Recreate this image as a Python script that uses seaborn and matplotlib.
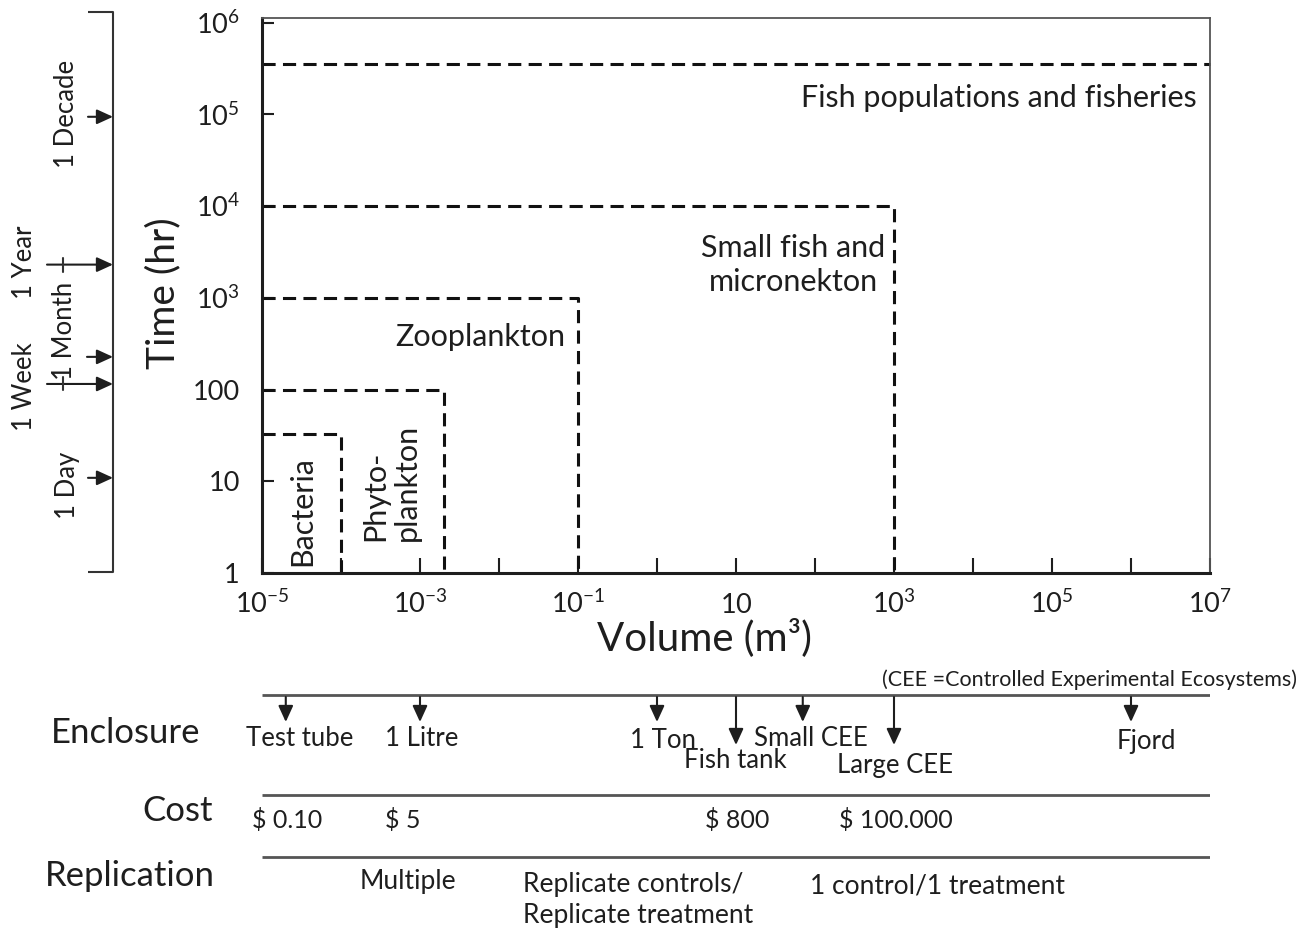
import matplotlib
matplotlib.use("Agg")
import matplotlib.pyplot as plt
from matplotlib.ticker import NullLocator
import pandas as pd
import seaborn as sns

# ---------------- data ----------------
groups = ["Bacteria", "Phytoplankton", "Zooplankton",
          "Small fish and micronekton", "Fish populations and fisheries"]
group_volume_max = [1e-4, 2e-3, 1e-1, 1e3, 1e7]     # m3
group_time_max = [33, 100, 1e3, 1e4, 3.5e5]         # hr

volume_ticks = [1e-5, 1e-4, 1e-3, 1e-2, 1e-1, 1, 10, 1e2, 1e3, 1e4, 1e5, 1e6, 1e7]
volume_tick_labels = [r"$\mathregular{10^{-5}}$", "", r"$\mathregular{10^{-3}}$", "",
                      r"$\mathregular{10^{-1}}$", "", r"$\mathregular{10}$", "",
                      r"$\mathregular{10^{3}}$", "", r"$\mathregular{10^{5}}$", "",
                      r"$\mathregular{10^{7}}$"]
time_ticks = [1, 10, 100, 1e3, 1e4, 1e5, 1e6]
time_tick_labels = ["1", "10", "100", r"$\mathregular{10^{3}}$", r"$\mathregular{10^{4}}$",
                    r"$\mathregular{10^{5}}$", r"$\mathregular{10^{6}}$"]

time_mark_labels = ["1 Decade", "1 Year", "1 Month", "1 Week", "1 Day"]
time_mark_hours = [9.4e4, 2.3e3, 227, 115, 10.9]

enclosures = ["Test tube", "1 Litre", "1 Ton", "Fish tank", "Small CEE", "Large CEE", "Fjord"]
enclosure_volume = [2e-5, 1e-3, 1, 10, 70, 1e3, 1e6]

costs = [r"\$ 0.10", r"\$ 5", r"\$ 800", r"\$ 100.000"]
replication = ["Multiple", "Replicate controls/\nReplicate treatment", "1 control/1 treatment"]
row_titles = ["Enclosure", "Cost", "Replication"]

# ---------------- style ----------------
W, H = 1302, 932
sns.set_style("ticks")
plt.rcParams["font.family"] = ["Lato", "DejaVu Sans"]
plt.rcParams["mathtext.fontset"] = "custom"
plt.rcParams["mathtext.rm"] = "Lato"
plt.rcParams["mathtext.it"] = "Lato:italic"
plt.rcParams["mathtext.bf"] = "Lato:bold"
INK = "#1e1e1e"

fig = plt.figure(figsize=(W / 100, H / 100), dpi=100)


def box(x0, y0, x1, y1):
    """Figure-fraction rect from pixel edges (top-left origin)."""
    return [x0 / W, 1 - y1 / H, (x1 - x0) / W, (y1 - y0) / H]


ylim = (1, 10 ** 6.05)
xlim = (volume_ticks[0], volume_ticks[-1])

# ---------------- main panel ----------------
ax = fig.add_axes(box(262, 18, 1210, 573))
ax.set_xscale("log")
ax.set_yscale("log")

rows = []
for g, v, t in zip(groups, group_volume_max, group_time_max):
    path = [(xlim[0], t), (v, t)]
    if v < xlim[1]:
        path.append((v, ylim[0]))
    for k, (xv, yv) in enumerate(path):
        rows.append({"group": g, "step": k, "volume": xv, "time": yv})
domains = pd.DataFrame(rows)

sns.lineplot(data=domains, x="volume", y="time", units="group", estimator=None,
             sort=False, color="#111111", linewidth=2.2,
             linestyle=(0, (4.3, 2.4)), ax=ax, clip_on=False)

ax.set_xlim(*xlim)
ax.set_ylim(*ylim)
ax.set_xticks(volume_ticks, volume_tick_labels)
ax.set_yticks(time_ticks, time_tick_labels)
ax.xaxis.set_minor_locator(NullLocator())
ax.yaxis.set_minor_locator(NullLocator())
ax.tick_params(axis="x", direction="in", length=10.5, width=1.5, pad=29,
               labelsize=19.5, colors=INK)
ax.tick_params(axis="y", direction="in", length=8.5, width=1.5, pad=16,
               labelsize=19.5, colors=INK)
for lab in ax.get_xticklabels():
    lab.set_va("baseline")
for side in ("left", "bottom"):
    ax.spines[side].set_linewidth(2.2)
    ax.spines[side].set_color(INK)
for side in ("top", "right"):
    ax.spines[side].set_linewidth(1.3)
    ax.spines[side].set_color("#555555")
ax.set_xlabel("")
ax.set_ylabel("")

# ---------------- time bracket (left) ----------------
axl = fig.add_axes(box(0, 18, 262, 573))
axl.set_yscale("log")
axl.set_ylim(*ylim)
axl.set_xlim(0, 262)
axl.axis("off")
mark_tail = [88, 47, 87, 47, 88]
for tail, hrs in zip(mark_tail, time_mark_hours):
    axl.annotate("", xy=(113, hrs), xytext=(tail, hrs),
                 arrowprops=dict(arrowstyle="-|>,head_length=0.7,head_width=0.32",
                                 color=INK, lw=1.5, shrinkA=0, shrinkB=0,
                                 mutation_scale=14))

# ---------------- experimental systems (bottom) ----------------
axb = fig.add_axes(box(262, 660, 1210, 932))
axb.set_xscale("log")
axb.set_xlim(*xlim)
axb.set_ylim(932, 660)
axb.axis("off")
axb.hlines([695, 795, 857], xlim[0], xlim[1], colors="#555555", lw=2.0)
arrow_tip = [722, 722, 722, 745, 722, 745, 722]
for v, tip in zip(enclosure_volume, arrow_tip):
    axb.annotate("", xy=(v, tip), xytext=(v, 697),
                 arrowprops=dict(arrowstyle="-|>,head_length=0.7,head_width=0.32",
                                 color=INK, lw=1.5, shrinkA=0, shrinkB=0,
                                 mutation_scale=14))

# ---------------- text layer ----------------
ov = fig.add_axes([0, 0, 1, 1])
ov.set_xlim(0, W)
ov.set_ylim(H, 0)
ov.axis("off")
ov.patch.set_alpha(0)

# bracket frame
ov.plot([88, 113, 113, 88], [12, 12, 572, 572], color="#333333", lw=1.5,
        solid_capstyle="butt")
ov.plot([63, 63], [258, 272], color="#333333", lw=1.5)
ov.plot([63, 63], [377, 390], color="#333333", lw=1.5)

mark_pos = [(66, 114), (25, 262), (64, 331), (25, 387), (67, 485)]
for lab, (px, py) in zip(time_mark_labels, mark_pos):
    ov.text(px, py, lab, rotation=90, ha="center", va="center", fontsize=18.5, color=INK)

# axis titles
ov.text(163, 293, "Time (hr)", rotation=90, ha="center", va="center", fontsize=28, color=INK)
ov.text(704, 638, "Volume (m³)", ha="center", va="center", fontsize=29, color=INK)

# domain labels
ov.text(1197, 98, groups[4], ha="right", va="center", fontsize=22, color=INK)
ov.text(793, 265, "Small fish and\nmicronekton", ha="center", va="center",
        fontsize=22, linespacing=1.3, color=INK)
ov.text(480, 337, groups[2], ha="center", va="center", fontsize=22, color=INK)
ov.text(391, 482, "Phyto-\nplankton", rotation=90, ha="center", va="center",
        multialignment="left", fontsize=22, linespacing=1.15, color=INK)
ov.text(302, 511, groups[0], rotation=90, ha="center", va="center", fontsize=22, color=INK)

# bottom table
ov.text(1297, 680, "(CEE =Controlled Experimental Ecosystems)", ha="right", va="center",
        fontsize=15.5, color=INK)
title_pos = [(126, 733), (178, 811), (130, 876)]
for lab, (px, py) in zip(row_titles, title_pos):
    ov.text(px, py, lab, ha="center", va="center", fontsize=25, color=INK)

enc_pos = [(300, 738), (422, 738), (663, 740), (735, 760), (811, 739), (895, 765), (1146, 742)]
for lab, (px, py) in zip(enclosures, enc_pos):
    ov.text(px, py, lab, ha="center", va="center", fontsize=18.5, color=INK)

cost_pos = [(287, 820), (403, 820), (737, 820), (896, 820)]
for lab, (px, py) in zip(costs, cost_pos):
    ov.text(px, py, lab, ha="center", va="center", fontsize=18, color=INK)

ov.text(408, 882, replication[0], ha="center", va="center", fontsize=19, color=INK)
ov.text(523, 900, replication[1], ha="left", va="center", fontsize=19,
        linespacing=1.3, color=INK)
ov.text(938, 886, replication[2], ha="center", va="center", fontsize=19, color=INK)

fig.savefig("out.png", dpi=100, facecolor="white")
